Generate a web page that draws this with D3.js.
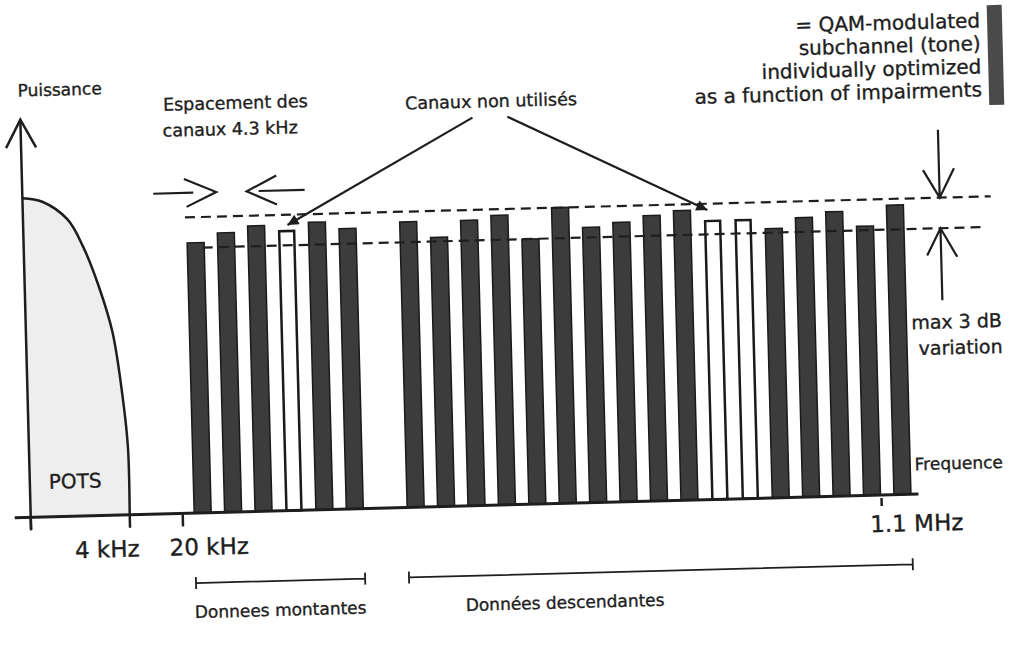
<!DOCTYPE html>
<html>
<head>
<meta charset="utf-8">
<script src="https://cdn.jsdelivr.net/npm/d3@7"></script>
<style>
  body { margin: 0; background: #fff; }
  text { font-family: "DejaVu Sans", sans-serif; fill: #1e1e1e; stroke: #1e1e1e; stroke-width: 0.35px; }
</style>
</head>
<body>
<svg id="chart" width="1014" height="663"></svg>
<script>
// tones: channel index, power (dB, relative) and whether the tone is used
var channels = [0, 1, 2, 3, 4, 5, 7, 8, 9, 10, 11, 12, 13, 14, 15, 16, 17, 18, 19, 20, 21, 22, 23];
var power = [26.5, 27.4, 28.0, 27.4, 28.2, 27.5, 28.0, 26.4, 28.0, 28.4, 26.0, 29.0, 27.0, 27.4, 28.0, 28.4, 27.3, 27.3, 26.4, 27.4, 27.9, 26.4, 28.4];
var used = [1, 1, 1, 0, 1, 1, 1, 1, 1, 1, 1, 1, 1, 1, 1, 1, 0, 0, 1, 1, 1, 1, 1];

// POTS spectrum (kHz, dB)
var potsFreq = [0, 0.8, 1.8, 2.4, 3.0, 3.5, 3.85, 4.0, 4.0];
var potsPower = [31.3, 30.9, 29.1, 26.4, 22.4, 17.9, 11.3, 6.6, 0];

var freqTicks = [0, 4, 20, 1100];
var freqLabels = ['', '4 kHz', '20 kHz', '1.1 MHz'];

var maxPower = 29;   // upper dashed line
var minPower = 26;   // lower dashed line (max 3 dB variation)

var upstream = [0, 5];
var downstream = [7, 23];

var legendLines = ['= QAM-modulated', 'subchannel (tone)', 'individually optimized', 'as a function of impairments'];

var svg = d3.select('#chart');

// the scanned figure is slightly tilted
var g = svg.append('g').attr('transform', 'rotate(-1.5,500,330)');

var x = d3.scaleLinear().domain([0, 23]).range([198, 898]);
var f = d3.scaleLinear().domain(freqTicks).range([26, 125, 178, 877]);
var y = d3.scaleLinear().domain([0, 39]).range([505, 107.2]);

var bw = 17;
var ink = '#1e1e1e';

var defs = svg.append('defs');
defs.append('marker')
    .attr('id', 'head')
    .attr('viewBox', '0 0 10 10')
    .attr('refX', 10).attr('refY', 5)
    .attr('markerWidth', 15).attr('markerHeight', 11)
    .attr('markerUnits', 'userSpaceOnUse')
    .attr('orient', 'auto')
    .append('path').attr('d', 'M0,0L10,5L0,10z').attr('fill', ink);

// POTS area
var pots = potsFreq.map((d, i) => [f(d), y(potsPower[i])]);
var curve = d3.line().curve(d3.curveCatmullRom.alpha(0.5))(pots);
g.append('path')
    .attr('d', 'M' + f(0) + ',' + y(0) + 'L' + curve.slice(1) + 'L' + f(4) + ',' + y(0) + 'Z')
    .attr('fill', '#eeeeee');
g.append('path')
    .attr('d', curve)
    .attr('fill', 'none')
    .attr('stroke', ink)
    .attr('stroke-width', 2.5);
g.append('text').attr('x', f(0) + 19).attr('y', y(0) - 28)
    .attr('font-size', 20).text('POTS');

// bars
var tones = channels.map((c, i) => ({ c: c, p: power[i], used: used[i] }));
g.selectAll('rect.tone')
    .data(tones)
    .enter().append('rect')
    .attr('class', 'tone')
    .attr('x', d => x(d.c) - (d.used ? bw : bw - 2) / 2)
    .attr('width', d => d.used ? bw : bw - 2)
    .attr('y', d => y(d.p))
    .attr('height', d => y(0) - y(d.p))
    .attr('fill', d => d.used ? '#3c3c3c' : '#fff')
    .attr('stroke', '#1a1a1a')
    .attr('stroke-width', d => d.used ? 1.5 : 2.5);

// 3 dB band
[[maxPower, 188, 994], [minPower, 205, 983]].forEach(function (b) {
    g.append('line')
        .attr('x1', b[1]).attr('x2', b[2])
        .attr('y1', y(b[0])).attr('y2', y(b[0]))
        .attr('stroke', ink)
        .attr('stroke-width', 2.2)
        .attr('stroke-dasharray', '10,6');
});

// axes
g.append('line')
    .attr('x1', f(0)).attr('x2', f(0))
    .attr('y1', y(0) + 12).attr('y2', y(39))
    .attr('stroke', ink).attr('stroke-width', 2.5);
g.append('path')
    .attr('d', 'M' + (f(0) - 15) + ',' + (y(39) + 28) + 'L' + f(0) + ',' + y(39) + 'L' + (f(0) + 15) + ',' + (y(39) + 28))
    .attr('fill', 'none').attr('stroke', ink).attr('stroke-width', 2.5);
g.append('text').attr('x', 24).attr('y', 84)
    .attr('font-size', 17).text('Puissance');

g.append('line')
    .attr('x1', 10).attr('x2', 914)
    .attr('y1', y(0)).attr('y2', y(0))
    .attr('stroke', ink).attr('stroke-width', 3);

var ticks = g.selectAll('g.tick')
    .data(freqTicks)
    .enter().append('g')
    .attr('class', 'tick')
    .attr('transform', d => 'translate(' + f(d) + ',' + y(0) + ')');
ticks.append('line')
    .attr('y1', (d, i) => i === 3 ? 3 : 0)
    .attr('y2', (d, i) => i === 3 ? 11 : 13)
    .attr('stroke', ink).attr('stroke-width', 2.5);
ticks.append('text')
    .attr('x', (d, i) => i === 1 ? 9 : i === 2 ? -14 : -12)
    .attr('y', (d, i) => i === 3 ? 37 : 42)
    .attr('text-anchor', (d, i) => i === 1 ? 'end' : 'start')
    .attr('font-size', 23)
    .text((d, i) => freqLabels[i]);

g.append('text').attr('x', x(23) + 13).attr('y', y(0) - 24)
    .attr('font-size', 17).text('Frequence');

// channel spacing arrows
var sy = y(31.4);
var t1 = x(1) - bw / 2, t2 = x(2) - bw / 2;
g.append('path')
    .attr('d', 'M' + (t1 - 63) + ',' + sy + 'L' + (t1 - 23) + ',' + sy +
        'M' + (t1 - 32) + ',' + (sy - 14) + 'L' + t1 + ',' + sy + 'L' + (t1 - 30) + ',' + (sy + 14) +
        'M' + (t2 + 58) + ',' + sy + 'L' + (t2 + 12) + ',' + sy +
        'M' + (t2 + 30) + ',' + (sy - 15) + 'L' + t2 + ',' + sy + 'L' + (t2 + 30) + ',' + (sy + 14))
    .attr('fill', 'none').attr('stroke', ink).attr('stroke-width', 2.2);
g.append('text').attr('x', 169).attr('y', 102)
    .attr('font-size', 17.5).text('Espacement des');
g.append('text').attr('x', 168).attr('y', 128)
    .attr('font-size', 17.5).text('canaux 4.3 kHz');

// unused channels
var lx = 497, ly = 107;
g.append('text').attr('x', lx).attr('y', ly)
    .attr('text-anchor', 'middle')
    .attr('font-size', 17.5).text('Canaux non utilisés');
g.append('line')
    .attr('x1', lx - 19).attr('y1', ly + 10)
    .attr('x2', x(3) + 1).attr('y2', y(power[3]) - 6)
    .attr('stroke', ink).attr('stroke-width', 2.2)
    .attr('marker-end', 'url(#head)');
g.append('line')
    .attr('x1', lx + 16).attr('y1', ly + 10)
    .attr('x2', x(17) - 5).attr('y2', y(power[16]) - 11)
    .attr('stroke', ink).attr('stroke-width', 2.2)
    .attr('marker-end', 'url(#head)');

// max 3 dB variation arrows
var ax = x(23) + 45;
var yHi = y(maxPower), yLo = y(minPower);
g.append('path')
    .attr('d', 'M' + ax + ',' + (yHi - 68) + 'L' + ax + ',' + yHi +
        'M' + (ax - 16) + ',' + (yHi - 28) + 'L' + ax + ',' + yHi + 'L' + (ax + 15) + ',' + (yHi - 29) +
        'M' + ax + ',' + (yLo + 72) + 'L' + ax + ',' + yLo +
        'M' + (ax - 14) + ',' + (yLo + 27) + 'L' + ax + ',' + yLo + 'L' + (ax + 16) + ',' + (yLo + 29))
    .attr('fill', 'none').attr('stroke', ink).attr('stroke-width', 2.2);
g.append('text').attr('x', 1002).attr('y', 340)
    .attr('text-anchor', 'end').attr('font-size', 19).text('max 3 dB');
g.append('text').attr('x', 1002).attr('y', 366)
    .attr('text-anchor', 'end').attr('font-size', 19).text('variation');

// up / down stream brackets
function bracket(range, by, label, dx) {
    var x0 = x(range[0]) - bw / 2, x1 = x(range[1]) + bw / 2;
    g.append('path')
        .attr('d', 'M' + x0 + ',' + (by - 6) + 'L' + x0 + ',' + (by + 6) +
            'M' + x0 + ',' + by + 'L' + x1 + ',' + by +
            'M' + x1 + ',' + (by - 6) + 'L' + x1 + ',' + (by + 6))
        .attr('fill', 'none').attr('stroke', ink).attr('stroke-width', 1.8);
    g.append('text').attr('x', x0 + dx).attr('y', by + 35)
        .attr('font-size', 17).text(label);
}
bracket(upstream, 575, 'Donnees montantes', -2);
bracket(downstream, 575, 'Données descendantes', 56);

// legend
var legend = g.append('g');
legend.selectAll('text')
    .data(legendLines)
    .enter().append('text')
    .attr('x', 988)
    .attr('y', (d, i) => 40 + i * 23)
    .attr('text-anchor', 'end')
    .attr('font-size', 20)
    .text(d => d);
legend.append('rect')
    .attr('x', 995).attr('y', 18)
    .attr('width', 15).attr('height', 100)
    .attr('fill', '#4a4a4a');
</script>
</body>
</html>
